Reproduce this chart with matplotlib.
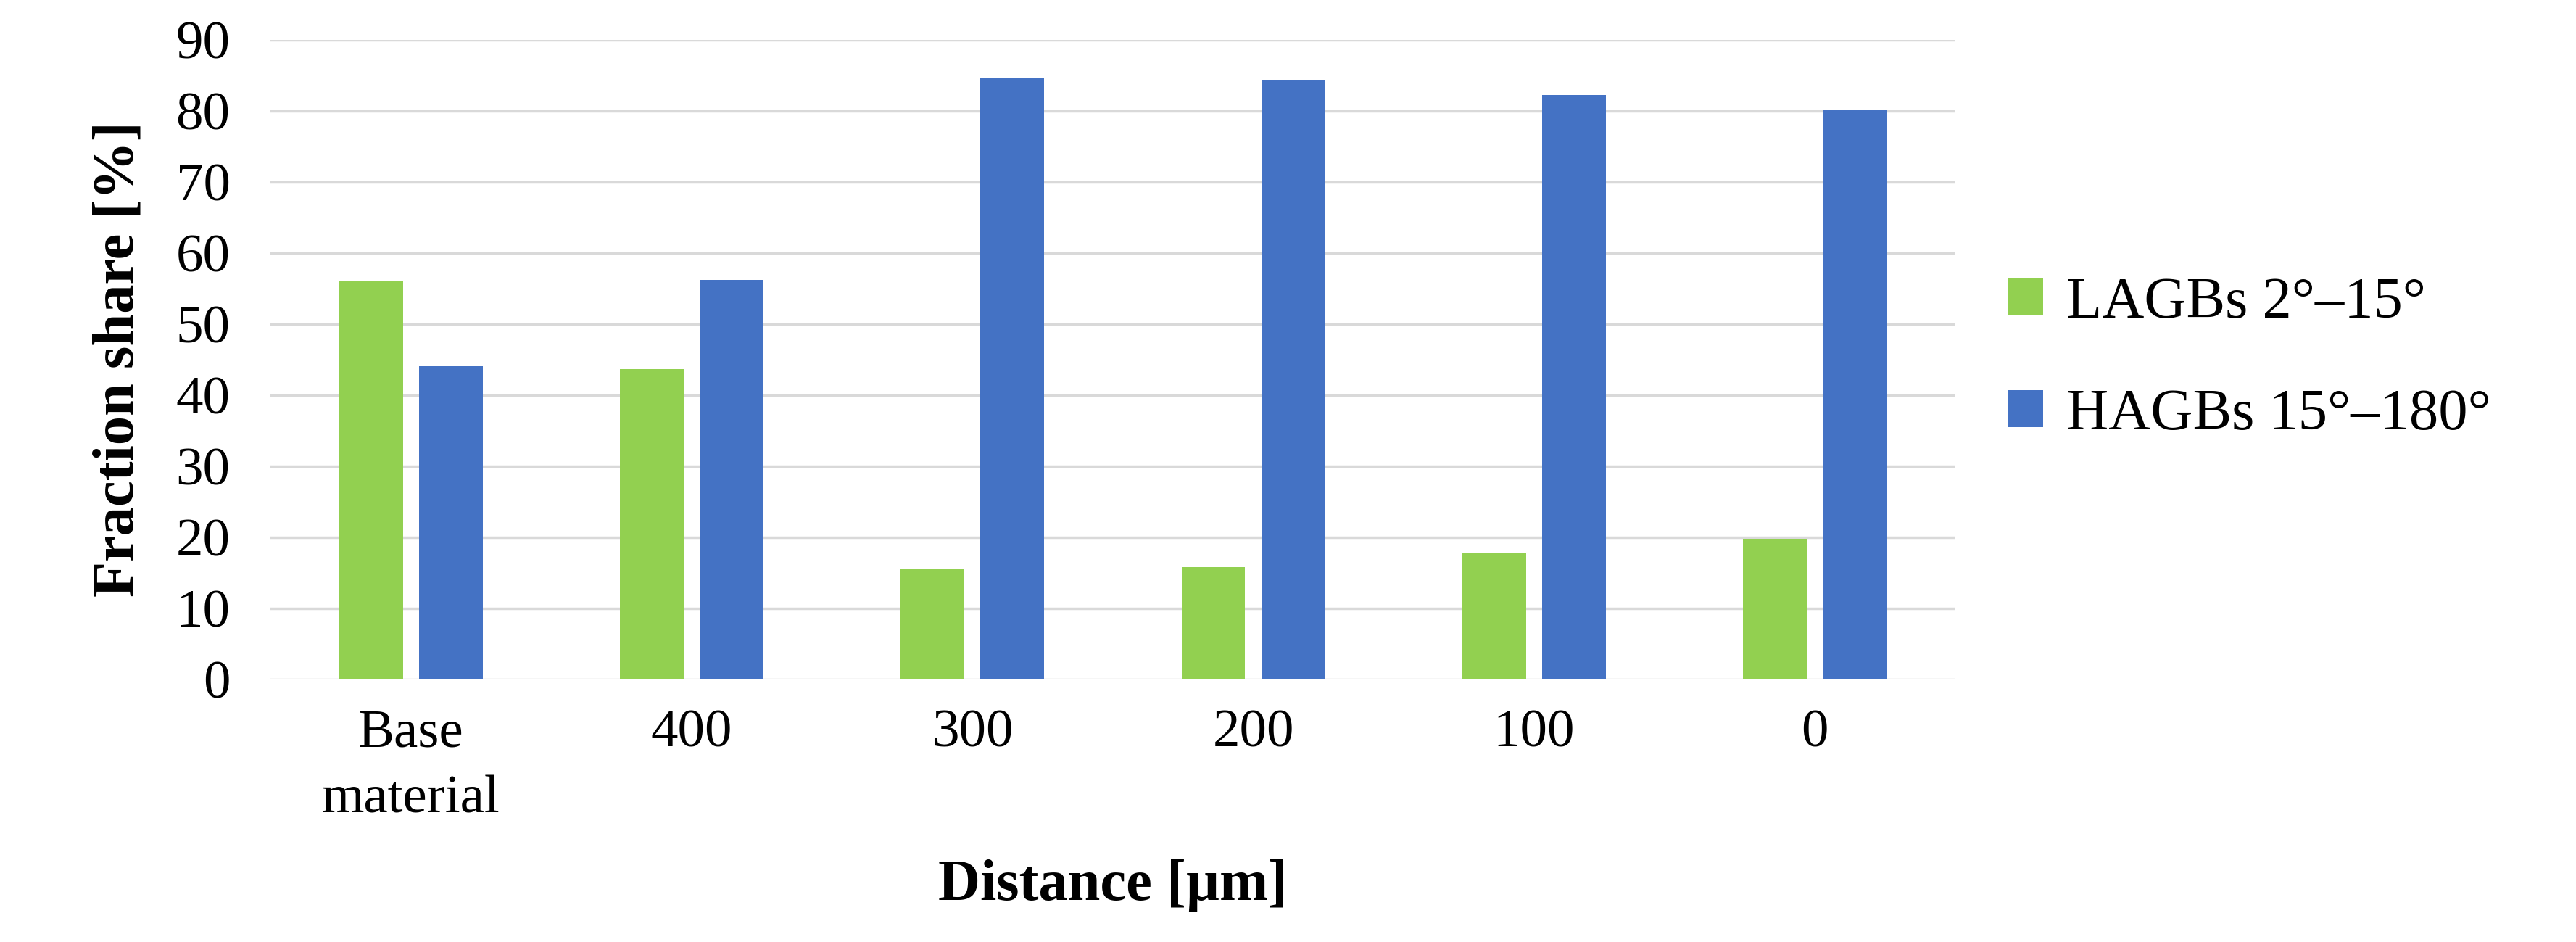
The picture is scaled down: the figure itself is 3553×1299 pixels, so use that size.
import matplotlib
matplotlib.use("Agg")
import matplotlib.pyplot as plt
import numpy as np

categories = ["Base\nmaterial", "400", "300", "200", "100", "0"]
lagbs = [56.0, 43.6, 15.5, 15.8, 17.7, 19.8]
hagbs = [44.0, 56.2, 84.5, 84.2, 82.2, 80.2]
yticks = list(range(0, 91, 10))

plt.rcParams['font.family'] = ['Liberation Serif', 'DejaVu Serif']
fig = plt.figure(figsize=(35.53, 12.99), dpi=100)
ax = fig.add_axes([0.105, 0.279, 0.654, 0.679])
x = np.arange(len(categories))
w = 0.227
ax.bar(x - 0.142, lagbs, w, color="#92D050", label="LAGBs 2°–15°", zorder=3)
ax.bar(x + 0.142, hagbs, w, color="#4472C4", label="HAGBs 15°–180°", zorder=3)
ax.set_xlim(-0.5, len(categories) - 0.5)
ax.set_ylim(0, 90)
ax.set_yticks(yticks)
ax.set_xticks(x)
ax.set_xticklabels(categories, fontsize=54, linespacing=1.45)
ax.tick_params(axis='y', labelsize=54, length=0, pad=40)
ax.tick_params(axis='x', length=0, pad=30)
ax.grid(axis='y', color="#D9D9D9", linewidth=2.5, zorder=0)
for s in ax.spines.values():
    s.set_visible(False)
ax.set_ylabel("Fraction share [%]", fontsize=58, fontweight='bold', labelpad=30)
ax.set_xlabel("Distance [µm]", fontsize=58, fontweight='bold', labelpad=35)
ax.legend(loc='center left', bbox_to_anchor=(1.0, 0.5), frameon=False,
          fontsize=58, labelspacing=1.0, handlelength=0.6, handleheight=0.6,
          handletextpad=0.4)
fig.savefig("out.png", dpi=100, facecolor="white")
